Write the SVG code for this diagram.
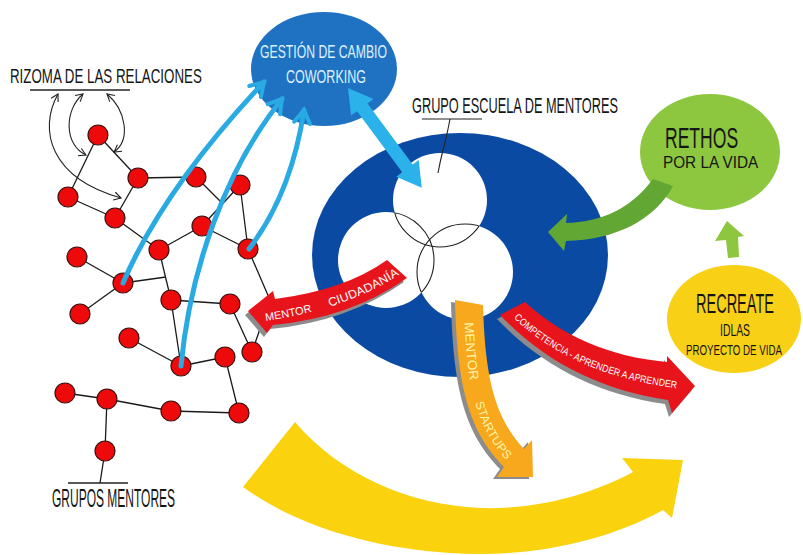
<svg xmlns="http://www.w3.org/2000/svg" width="803" height="555" viewBox="0 0 803 555">
<defs>
<style>
.t{font-family:"Liberation Sans",Arial,sans-serif;}
.dark{fill:#151515;}
.edge{stroke:#1a1a1a;stroke-width:1.3;fill:none;}
.node{fill:#ee0a0a;stroke:#3a1010;stroke-width:1.2;}
.thin{stroke:#222;stroke-width:1.1;fill:none;marker-start:url(#vh);marker-end:url(#vh);}
.blue{stroke:#2aaae3;stroke-width:5;fill:none;stroke-linecap:round;marker-end:url(#bh);}
.shadow{fill:#8c8c8c;}
.red{fill:#e8141c;}
.ring{fill:none;stroke:#222;stroke-width:1.1;}
</style>
<marker id="vh" markerUnits="userSpaceOnUse" markerWidth="12" markerHeight="12" viewBox="-10 -6 12 12" refX="0" refY="0" orient="auto-start-reverse" overflow="visible">
<path d="M-7,-4 L0,0 L-7,4" fill="none" stroke="#222" stroke-width="1.1"/>
</marker>
<marker id="bh" markerUnits="userSpaceOnUse" markerWidth="20" markerHeight="20" viewBox="-16 -10 20 20" refX="0" refY="0" orient="auto" overflow="visible">
<path d="M-13,-8 L0,0 L-13,8" fill="none" stroke="#2aaae3" stroke-width="4" stroke-linecap="round" stroke-linejoin="miter"/>
</marker>
<clipPath id="cLR"><circle cx="386" cy="260" r="48"/><circle cx="465" cy="272" r="48"/></clipPath>
<clipPath id="cTR"><circle cx="440" cy="200" r="47"/><circle cx="465" cy="272" r="48"/></clipPath>
<clipPath id="cTL"><circle cx="440" cy="200" r="47"/><circle cx="386" cy="260" r="48"/></clipPath>
<path id="pCiu" d="M258,318 Q347,306 402,268"/>
<path id="pCom" d="M512,311 C555,352 605,376 690,386"/>
<path id="pSta" d="M469,304 C471,380 478,425 516,463"/>
</defs>
<rect width="803" height="555" fill="#ffffff"/>

<!-- big yellow arrow -->
<g id="yellow-arrow">
<path d="M295,422 C340,475 410,505 480,508 C545,510 600,490 633,472 L622,458 L683,460 L672,518 L663,510 C600,545 520,558 450,553 C370,548 295,525 243,487 Z" fill="#fbd20e"/>
</g>

<!-- rhizome labels -->
<g id="rizoma-label">
<text class="t dark" transform="translate(10,83) scale(0.633,1)" font-size="21" textLength="303" lengthAdjust="spacingAndGlyphs">RIZOMA DE LAS RELACIONES</text>
<line x1="30" y1="90" x2="130" y2="90" stroke="#222" stroke-width="1.3"/>
<path class="thin" d="M58,94 C38,130 50,178 121,198"/>
<path class="thin" d="M83,94 C64,110 64,145 86,155"/>
<path class="thin" d="M107,94 C126,110 131,140 114,152"/>
</g>
<g id="grupos-label">
<text class="t dark" transform="translate(52,507) scale(0.479,1)" font-size="25" textLength="257" lengthAdjust="spacingAndGlyphs">GRUPOS MENTORES</text>
<line x1="68" y1="483" x2="128" y2="483" stroke="#222" stroke-width="1.3"/>
</g>

<!-- network edges -->
<g id="edges" class="edge">
<line x1="98" y1="135" x2="68" y2="197"/>
<line x1="98" y1="135" x2="138" y2="178"/>
<line x1="138" y1="178" x2="115" y2="218"/>
<line x1="68" y1="197" x2="115" y2="218"/>
<line x1="138" y1="178" x2="196" y2="177"/>
<line x1="196" y1="177" x2="222" y2="203"/>
<line x1="240" y1="185" x2="202" y2="226"/>
<line x1="240" y1="185" x2="248" y2="249"/>
<line x1="202" y1="226" x2="248" y2="249"/>
<line x1="202" y1="226" x2="159" y2="250"/>
<line x1="115" y1="218" x2="159" y2="250"/>
<line x1="159" y1="250" x2="171" y2="300"/>
<line x1="123" y1="283" x2="166" y2="277"/>
<line x1="77" y1="257" x2="123" y2="283"/>
<line x1="80" y1="314" x2="123" y2="283"/>
<line x1="171" y1="300" x2="230" y2="304"/>
<line x1="171" y1="300" x2="181" y2="366"/>
<line x1="129" y1="338" x2="181" y2="366"/>
<line x1="181" y1="366" x2="225" y2="357"/>
<line x1="225" y1="357" x2="239" y2="413"/>
<line x1="230" y1="304" x2="252" y2="352"/>
<polyline points="248,249 270,300 252,352"/>
<line x1="65" y1="393" x2="107" y2="399"/>
<line x1="107" y1="399" x2="171" y2="411"/>
<line x1="171" y1="411" x2="239" y2="413"/>
<line x1="107" y1="399" x2="105" y2="451"/>
<line x1="105" y1="451" x2="100" y2="483"/>
</g>

<!-- network nodes -->
<g id="nodes">
<circle id="n1" class="node" cx="98" cy="135" r="10"/>
<circle id="n2" class="node" cx="138" cy="178" r="10"/>
<circle id="n3" class="node" cx="68" cy="197" r="10"/>
<circle id="n4" class="node" cx="115" cy="218" r="10"/>
<circle id="n5" class="node" cx="196" cy="177" r="10"/>
<circle id="n6" class="node" cx="240" cy="185" r="10"/>
<circle id="n7" class="node" cx="202" cy="226" r="10"/>
<circle id="n8" class="node" cx="159" cy="250" r="10"/>
<circle id="n9" class="node" cx="248" cy="249" r="10"/>
<circle id="n10" class="node" cx="77" cy="257" r="10"/>
<circle id="n11" class="node" cx="123" cy="283" r="10"/>
<circle id="n12" class="node" cx="80" cy="314" r="10"/>
<circle id="n13" class="node" cx="171" cy="300" r="10"/>
<circle id="n14" class="node" cx="230" cy="304" r="10"/>
<circle id="n15" class="node" cx="129" cy="338" r="10"/>
<circle id="n16" class="node" cx="181" cy="366" r="10"/>
<circle id="n17" class="node" cx="225" cy="357" r="10"/>
<circle id="n18" class="node" cx="252" cy="352" r="10"/>
<circle id="n19" class="node" cx="65" cy="393" r="10"/>
<circle id="n20" class="node" cx="107" cy="399" r="10"/>
<circle id="n21" class="node" cx="171" cy="411" r="10"/>
<circle id="n22" class="node" cx="239" cy="413" r="10"/>
<circle id="n23" class="node" cx="105" cy="451" r="10"/>
</g>

<!-- gestion de cambio -->
<g id="gestion">
<ellipse cx="324" cy="69" rx="73" ry="57" fill="#1f72c2"/>
<text class="t" transform="translate(260,58) scale(0.679,1)" font-size="18" fill="#def2ff" textLength="187" lengthAdjust="spacingAndGlyphs">GESTIÓN DE CAMBIO</text>
<text class="t" transform="translate(286,83) scale(0.696,1)" font-size="18" fill="#def2ff" textLength="115" lengthAdjust="spacingAndGlyphs">COWORKING</text>
</g>

<!-- escuela de mentores -->
<g id="escuela">
<ellipse cx="460" cy="255" rx="148" ry="122" fill="#0b4aa2"/>
<circle cx="440" cy="200" r="47" fill="#ffffff"/>
<circle cx="386" cy="260" r="48" fill="#ffffff"/>
<circle cx="465" cy="272" r="48" fill="#ffffff"/>
<circle class="ring" cx="440" cy="200" r="47" clip-path="url(#cLR)"/>
<circle class="ring" cx="386" cy="260" r="48" clip-path="url(#cTR)"/>
<circle class="ring" cx="465" cy="272" r="48" clip-path="url(#cTL)"/>
<text class="t dark" transform="translate(412,113) scale(0.577,1)" font-size="22" textLength="357" lengthAdjust="spacingAndGlyphs">GRUPO ESCUELA DE MENTORES</text>
<line x1="422" y1="119" x2="482" y2="119" stroke="#222" stroke-width="1.2"/>
<path d="M450,119 Q446,140 443,150 Q440,162 438,173" fill="none" stroke="#222" stroke-width="1.1"/>
</g>

<!-- rethos -->
<g id="rethos">
<ellipse cx="710" cy="152" rx="70" ry="58" fill="#8dc63f"/>
<text class="t dark" transform="translate(665,148) scale(0.604,1)" font-size="29" textLength="121" lengthAdjust="spacingAndGlyphs">RETHOS</text>
<text class="t dark" transform="translate(663,168) scale(0.89,1)" font-size="17" textLength="107" lengthAdjust="spacingAndGlyphs">POR LA VIDA</text>
</g>

<!-- recreate -->
<g id="recreate">
<ellipse cx="734" cy="319" rx="67" ry="54" fill="#f8d117"/>
<text class="t dark" transform="translate(696,313) scale(0.511,1)" font-size="28" textLength="152.5" lengthAdjust="spacingAndGlyphs">RECREATE</text>
<text class="t dark" transform="translate(720,336) scale(0.65,1)" font-size="16" textLength="46.2" lengthAdjust="spacingAndGlyphs">IDLAS</text>
<text class="t dark" transform="translate(686,355) scale(0.647,1)" font-size="15" textLength="148.4" lengthAdjust="spacingAndGlyphs">PROYECTO DE VIDA</text>
</g>

<!-- connectors -->
<g id="connectors">
<path class="blue" d="M123,283 C150,220 200,150 264,82"/>
<path class="blue" d="M181,366 C190,270 225,170 282,99"/>
<path class="blue" d="M249,249 C275,215 295,170 304,110"/>
<polygon transform="translate(348,88) rotate(53.5)" points="0,0 24,-14 24,-6.5 100,-6.5 100,-14 124,0 100,14 100,6.5 24,6.5 24,14" fill="#2bb2ea"/>

<!-- mentor ciudadania -->
<path class="shadow" d="M384,264 Q342,294 272,303 L270,295 L245,315 L264,337 L270,329 Q347,322 404,282 Z"/>
<path class="red" d="M387,260 Q345,290 275,299 L273,291 L248,311 L267,333 L273,325 Q350,318 407,278 Z"/>
<text class="t" font-size="11" fill="#ffffff" dy="4"><textPath href="#pCiu" startOffset="7" textLength="47" lengthAdjust="spacingAndGlyphs">MENTOR</textPath></text>
<text class="t" font-size="12" fill="#ffffff" dy="4"><textPath href="#pCiu" startOffset="72" textLength="76" lengthAdjust="spacingAndGlyphs">CIUDADANÍA</textPath></text>

<!-- mentor startups -->
<path class="shadow" d="M451,302 L479,307 C481,372 488,417 520,451 L528,442 L529,479 L493,479 L500,469 C466,434 453,392 451,302 Z"/>
<path d="M455,300 L483,305 C485,370 492,415 524,449 L532,440 L533,477 L497,477 L504,467 C470,432 457,390 455,300 Z" fill="#f7a81d"/>
<text class="t" font-size="13" fill="#fff6a8" dy="5"><textPath href="#pSta" startOffset="18" textLength="58" lengthAdjust="spacingAndGlyphs">MENTOR</textPath></text>
<text class="t" font-size="12" fill="#fff6a8" dy="5"><textPath href="#pSta" startOffset="98" textLength="64" lengthAdjust="spacingAndGlyphs">STARTUPS</textPath></text>

<!-- competencia -->
<path class="shadow" d="M497,319 L522,306 C557,339 607,361 664,366 L664,360 L692,390 L669,417 L665,404 C597,394 542,366 497,319 Z"/>
<path class="red" d="M500,315 L525,302 C560,335 610,357 667,362 L667,356 L695,386 L672,413 L668,400 C600,390 545,362 500,315 Z"/>
<text class="t" font-size="10" fill="#ffffff" dy="4"><textPath href="#pCom" startOffset="6" textLength="178" lengthAdjust="spacingAndGlyphs">COMPETENCIA - APRENDER A APRENDER</textPath></text>

<!-- green arrows -->
<path d="M548,232 L567,214 L566,223 C600,222 630,210 653,179 L673,186 C655,220 615,240 566,241 L564,251 Z" fill="#62a733"/>
<path d="M727,221 L744,236 L738,237 L739,257 L728,258 L726,240 L715,241 Z" fill="#8dc63f"/>
</g>
</svg>
